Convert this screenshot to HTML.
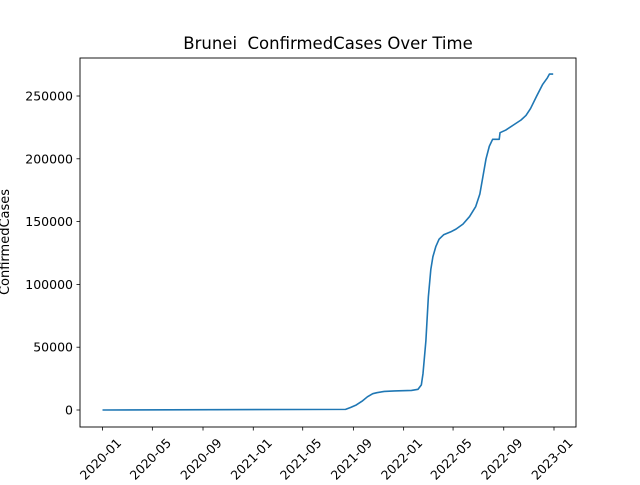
<!DOCTYPE html>
<html><head><meta charset="utf-8"><style>body{margin:0;background:#fff}svg{font-family:"DejaVu Sans","Liberation Sans",sans-serif}</style></head>
<body>
<svg id="chart" width="640" height="480" viewBox="0 0 640 480" xmlns="http://www.w3.org/2000/svg">
<rect width="640" height="480" fill="#fff"/>
<text x="328" y="49" text-anchor="middle" font-size="16.5" xml:space="preserve">Brunei  ConfirmedCases Over Time</text>
<text transform="translate(9,242) rotate(-90)" text-anchor="middle" font-size="13">ConfirmedCases</text>
<g id="ticks"></g>
<path id="line" fill="none" stroke="#1f77b4" stroke-width="1.6" stroke-linejoin="round"/>
<rect x="80" y="58" width="496" height="369" fill="none" stroke="#000" stroke-width="0.9"/>
</svg>
<script>
const dates = ["2020-01-01","2021-08-13","2021-08-25","2021-09-08","2021-09-22","2021-10-05","2021-10-18","2021-10-28","2021-11-15","2021-12-10","2022-01-20","2022-02-05","2022-02-13","2022-02-17","2022-02-24","2022-03-02","2022-03-08","2022-03-13","2022-03-20","2022-03-28","2022-04-08","2022-04-25","2022-05-08","2022-05-25","2022-06-10","2022-06-25","2022-07-05","2022-07-12","2022-07-20","2022-07-28","2022-08-05","2022-08-21","2022-08-23","2022-09-06","2022-09-25","2022-10-13","2022-10-25","2022-11-05","2022-11-20","2022-12-04","2022-12-16","2022-12-21","2022-12-30"];
const values = [0,500,2000,4000,7000,10500,13000,13800,14800,15200,15600,16500,20000,29000,55000,90000,112000,122000,130000,136000,139500,141800,144000,148000,154000,162000,172000,185000,200000,210000,215500,215500,220800,222900,227000,230900,234500,240000,250000,259000,264500,267500,267500];
const xTickLabels = ["2020-01","2020-05","2020-09","2021-01","2021-05","2021-09","2022-01","2022-05","2022-09","2023-01"];
const yTickValues = [0,50000,100000,150000,200000,250000];

const ms = s => Date.parse(s+"T00:00:00Z");
const d0 = ms("2020-01-01"), d1 = ms("2023-01-01");
const xs = t => 102.5 + (t - d0) / (d1 - d0) * (554 - 102.5);
const ys = v => 410 - v * 314 / 250000;
const NS = "http://www.w3.org/2000/svg";
const g = document.getElementById("ticks");
function mk(tag, attrs){const e=document.createElementNS(NS,tag);for(const k in attrs)e.setAttribute(k,attrs[k]);return e;}
xTickLabels.forEach(l=>{
  const x = xs(ms(l+"-01"));
  const t = mk("line",{x1:x,x2:x,y1:427,y2:430.5,stroke:"#000","stroke-width":0.8});
  
  
  g.appendChild(t);
  const tx = mk("text",{transform:`translate(${x-2},${459}) rotate(-45)`,"text-anchor":"middle","dominant-baseline":"central","font-size":"12.5"});
  tx.textContent = l;
  
  
  g.appendChild(tx);
});
yTickValues.forEach(v=>{
  const y = ys(v);
  const t = mk("line",{x1:76.5,x2:80,y1:y,y2:y,stroke:"#000","stroke-width":0.8});
  
  
  g.appendChild(t);
  const tx = mk("text",{x:73,y:y+4.5,"text-anchor":"end","font-size":"12.5"});
  tx.textContent = String(v);
  
  
  g.appendChild(tx);
});
document.getElementById("line").setAttribute("d", dates.map((d,i)=>(i?"L":"M")+xs(ms(d)).toFixed(2)+","+ys(values[i]).toFixed(2)).join(""));
</script>
</body></html>
